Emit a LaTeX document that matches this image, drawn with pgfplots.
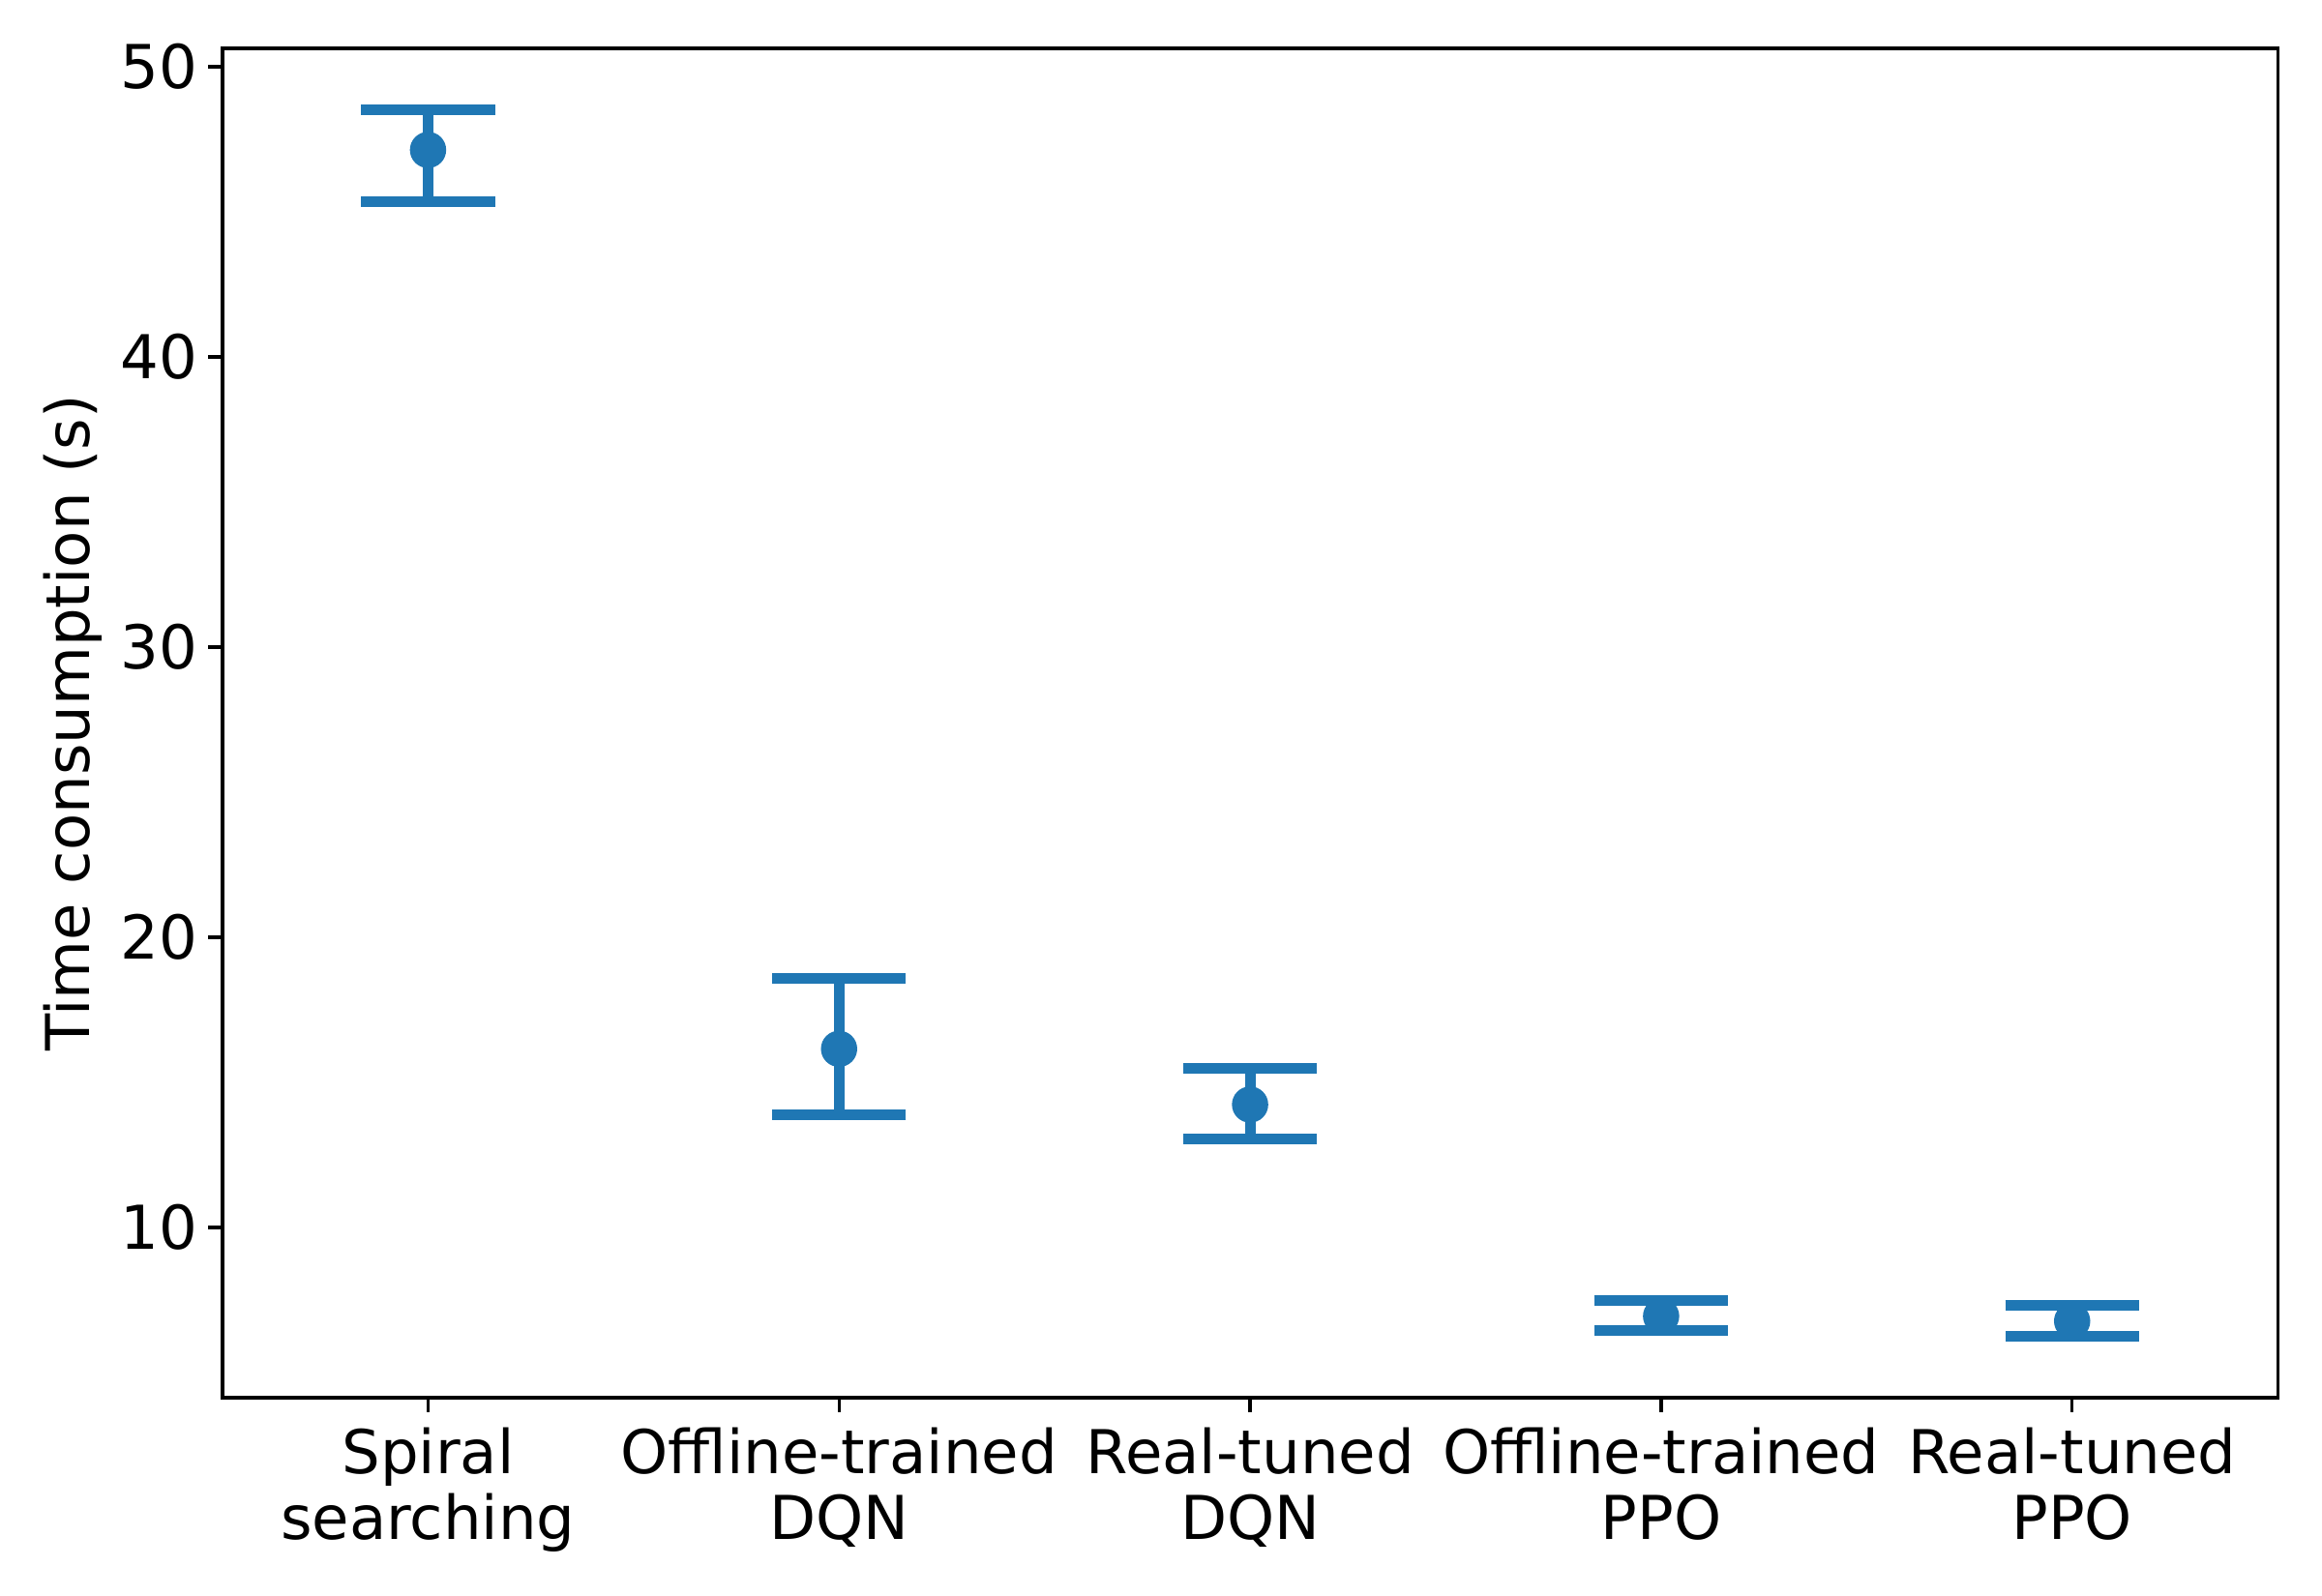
\documentclass[border=0pt]{standalone}
\usepackage{pgfplots}
\pgfplotsset{compat=1.18}
\usepackage{fontspec}
\setmainfont{DejaVu Sans}
\definecolor{tabblue}{HTML}{1F77B4}
\begin{document}
\begin{tikzpicture}
  \begin{axis}[
      scale only axis,
      width=509.8pt, height=334.8pt,
      xmin=-0.5, xmax=4.5, ymin=4.14, ymax=50.63,
      xtick={0,1,2,3,4},
      xticklabels={{Spiral\\searching},{Offline-trained\\DQN},{Real-tuned\\DQN},{Offline-trained\\PPO},{Real-tuned\\PPO}},
      ytick={10,20,30,40,50},
      ylabel={Time consumption (s)},
      font=\fontsize{15}{16.3}\selectfont,
      tick label style={font=\fontsize{15}{16.3}\selectfont},
      xticklabel style={align=center, inner sep=0pt, yshift=-3.8pt},
      yticklabel style={inner sep=0pt, xshift=-2.5pt},
      ylabel style={yshift=1pt},
      /pgf/number format/assume math mode=true,
      tick align=outside, major tick length=3.5pt,
      tick style={line width=0.8pt, black},
      axis line style={line width=0.8pt},
      xtick pos=bottom, ytick pos=left,
      minor tick num=0,
      clip=false,
    ]
    \addplot[only marks, mark=*, mark size=4.3pt, color=tabblue,
      error bars/.cd, y dir=both, y explicit,
      error bar style={line width=2.64pt, color=tabblue},
      error mark=|,
      error mark options={line width=2.64pt, mark size=16.6pt, color=tabblue}]
      coordinates {
        (0,47.13) += (0,1.39) -= (0,1.78)
        (1,16.16) += (0,2.41) -= (0,2.28)
        (2,14.24) += (0,1.24) -= (0,1.19)
        (3,6.95)  += (0,0.53) -= (0,0.50)
        (4,6.78)  += (0,0.53) -= (0,0.53)
      };
  \end{axis}
  \path (current axis.south west) ++(-55.2pt,-49.2pt) rectangle ++(576pt,396pt);
\end{tikzpicture}
\end{document}
